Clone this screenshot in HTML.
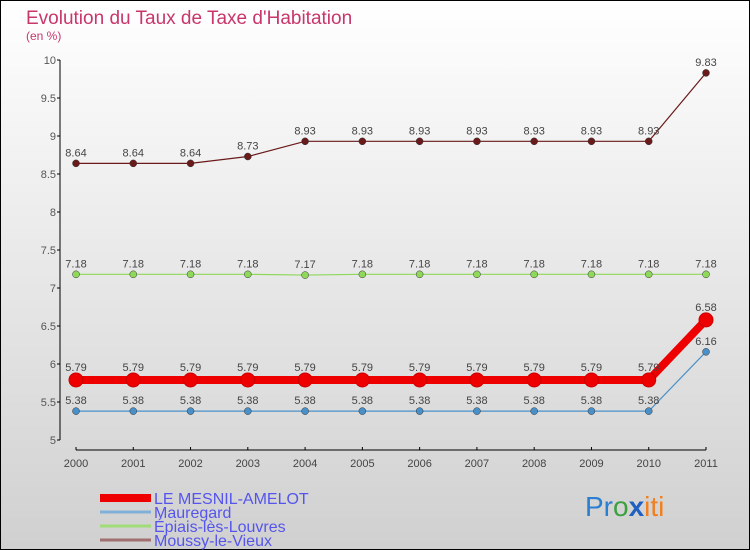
<!DOCTYPE html>
<html><head><meta charset="utf-8"><style>
body{margin:0}
svg{display:block;font-family:"Liberation Sans",sans-serif}
</style></head><body>
<svg id="c" width="750" height="550" xmlns="http://www.w3.org/2000/svg">
<defs><linearGradient id="bg" x1="0" y1="0" x2="0" y2="1"><stop offset="0" stop-color="#ffffff"/><stop offset="1" stop-color="#d0d0d0"/></linearGradient></defs>
<rect x="0.5" y="0.5" width="749" height="549" fill="url(#bg)" stroke="#000"/>
<text x="26" y="24" font-size="19" fill="#c8366a">Evolution du Taux de Taxe d'Habitation</text>
<text x="26" y="40" font-size="12" fill="#c8366a">(en %)</text>
<g id="axes"></g>
<g id="series"></g>
<g id="legend"></g>
<text x="585" y="516" font-size="28"><tspan fill="#2a7fd0">Pr</tspan><tspan fill="#3aa040">o</tspan><tspan fill="#2060c0" font-weight="bold">x</tspan><tspan fill="#f08020">iti</tspan></text>
</svg>
<script>
const years=[2000,2001,2002,2003,2004,2005,2006,2007,2008,2009,2010,2011];
const yTicks=[5,5.5,6,6.5,7,7.5,8,8.5,9,9.5,10];
const names=["LE MESNIL-AMELOT","Mauregard","Épiais-lès-Louvres","Moussy-le-Vieux"];
const colors=["#ee0000","#4a90c8","#8ed85a","#6a1a1a"];
const legendColors=["#ee0000","#80b0d8","#a0dc78","#a07070"];
const mesnil=[5.79,5.79,5.79,5.79,5.79,5.79,5.79,5.79,5.79,5.79,5.79,6.58];
const mauregard=[5.38,5.38,5.38,5.38,5.38,5.38,5.38,5.38,5.38,5.38,5.38,6.16];
const epiais=[7.18,7.18,7.18,7.18,7.17,7.18,7.18,7.18,7.18,7.18,7.18,7.18];
const moussy=[8.64,8.64,8.64,8.73,8.93,8.93,8.93,8.93,8.93,8.93,8.93,9.83];
const NS="http://www.w3.org/2000/svg";
const xs=i=>76+i*(630/(years.length-1));
const ys=v=>440-(v-5)*76;
function mk(t,a,p){const e=document.createElementNS(NS,t);for(const k in a)e.setAttribute(k,a[k]);p.appendChild(e);return e;}
const ax=document.getElementById('axes');
let l=mk('line',{x1:60,y1:ys(10),x2:60,y2:ys(5),stroke:'#000'},ax);


l=mk('line',{x1:76,y1:450,x2:706,y2:450,stroke:'#000'},ax);


yTicks.forEach(v=>{mk('line',{x1:57,y1:ys(v),x2:60,y2:ys(v),stroke:'#000'},ax);
const t=mk('text',{x:56,y:ys(v)+4,'font-size':11,fill:'#555','text-anchor':'end'},ax);t.textContent=v;

});
years.forEach((y,i)=>{mk('line',{x1:xs(i),y1:447,x2:xs(i),y2:450,stroke:'#000'},ax);
const t=mk('text',{x:xs(i),y:467,'font-size':11,fill:'#444','text-anchor':'middle'},ax);t.textContent=y;

});
const sg=document.getElementById('series');
const data=[moussy,epiais,mauregard,mesnil];const cidx=[3,2,1,0];
data.forEach((d,k)=>{const c=colors[cidx[k]];const big=cidx[k]==0;
const g=mk('g',{},sg);


mk('polyline',{points:d.map((v,i)=>xs(i)+','+ys(v)).join(' '),fill:'none',stroke:c,'stroke-width':big?8:1.2},g);
d.forEach((v,i)=>{const p=mk('circle',{cx:xs(i),cy:ys(v),r:big?7:3.5,fill:c,stroke:big?'#c00':'#333','stroke-width':big?1:0.5},g);


const t=mk('text',{x:xs(i),y:ys(v)-(big?9:7),'font-size':11,fill:'#444','text-anchor':'middle'},g);t.textContent=v;

});});
const lg=document.getElementById('legend');
names.forEach((n,i)=>{const y=498+i*14;
const s=mk('line',{x1:100,y1:y,x2:151,y2:y,stroke:legendColors[i],'stroke-width':i==0?8:3},lg);


const t=mk('text',{x:154,y:y+6,'font-size':16,fill:'#5555ee'},lg);t.textContent=n;

});
</script>
</body></html>
